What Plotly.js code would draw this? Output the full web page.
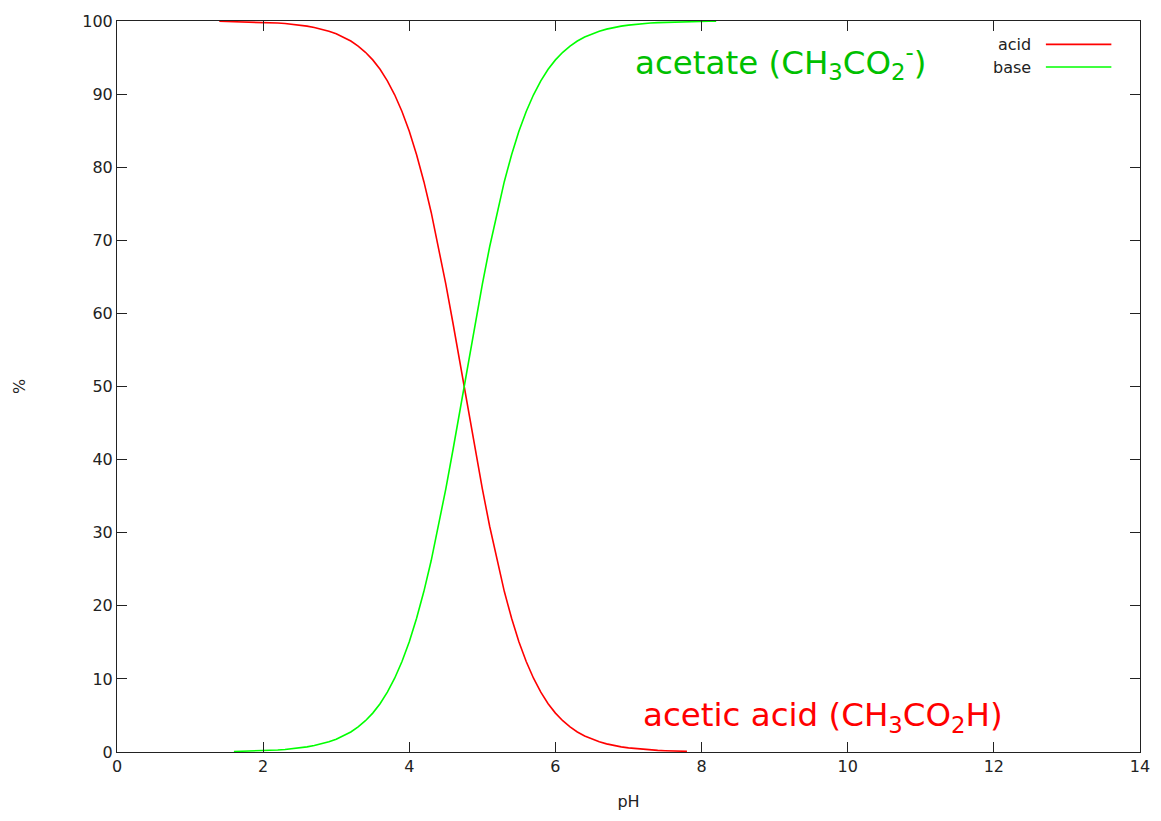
<!DOCTYPE html>
<html><head><meta charset="utf-8">
<script src="https://cdn.plot.ly/plotly-3.0.1.min.js"></script>
<style>html,body{margin:0;padding:0;background:#fff}#chart{width:1161px;height:821px}</style>
</head><body><div id="chart"></div>
<script>
// pH values and percentages
const acidPH = [1.4,1.5,1.6,1.7,1.8,1.9,2.0,2.1,2.2,2.3,2.4,2.5,2.6,2.7,2.8,2.9,3.0,3.1,3.2,3.3,3.4,3.5,3.6,3.7,3.8,3.9,4.0,4.1,4.2,4.3,4.4,4.5,4.6,4.7,4.8,4.9,5.0,5.1,5.2,5.3,5.4,5.5,5.6,5.7,5.8,5.9,6.0,6.1,6.2,6.3,6.4,6.5,6.6,6.7,6.8,6.9,7.0,7.1,7.2,7.3,7.4,7.5,7.6,7.7,7.8];
const acidPct = [99.96,99.94,99.93,99.91,99.89,99.86,99.82,99.78,99.72,99.65,99.56,99.44,99.30,99.12,98.89,98.61,98.25,97.81,97.26,96.57,95.72,94.68,93.39,91.82,89.91,87.62,84.91,81.71,78.02,73.81,69.12,64.01,58.55,52.87,47.13,41.45,35.99,30.88,26.19,21.98,18.29,15.09,12.38,10.09,8.18,6.61,5.32,4.28,3.43,2.74,2.19,1.75,1.39,1.11,0.88,0.70,0.56,0.45,0.35,0.28,0.22,0.18,0.14,0.11,0.09];
const basePH = [1.6,1.7,1.8,1.9,2.0,2.1,2.2,2.3,2.4,2.5,2.6,2.7,2.8,2.9,3.0,3.1,3.2,3.3,3.4,3.5,3.6,3.7,3.8,3.9,4.0,4.1,4.2,4.3,4.4,4.5,4.6,4.7,4.8,4.9,5.0,5.1,5.2,5.3,5.4,5.5,5.6,5.7,5.8,5.9,6.0,6.1,6.2,6.3,6.4,6.5,6.6,6.7,6.8,6.9,7.0,7.1,7.2,7.3,7.4,7.5,7.6,7.7,7.8,7.9,8.0,8.1,8.2];
const basePct = [0.07,0.09,0.11,0.14,0.18,0.22,0.28,0.35,0.44,0.56,0.70,0.88,1.11,1.39,1.75,2.19,2.74,3.43,4.28,5.32,6.61,8.18,10.09,12.38,15.09,18.29,21.98,26.19,30.88,35.99,41.45,47.13,52.87,58.55,64.01,69.12,73.81,78.02,81.71,84.91,87.62,89.91,91.82,93.39,94.68,95.72,96.57,97.26,97.81,98.25,98.61,98.89,99.12,99.30,99.44,99.56,99.65,99.72,99.78,99.82,99.86,99.89,99.91,99.93,99.94,99.96,99.96];
const seriesNames = ['acid','base'];
const xTicks = [0,2,4,6,8,10,12,14];
const yTicks = [0,10,20,30,40,50,60,70,80,90,100];

const RED = '#ff0000', GREEN = '#00ff00';
const FONT = 'DejaVu Sans, Verdana, sans-serif';
const axisCommon = {
  showgrid:false, zeroline:false, showline:true, linecolor:'#222', linewidth:1,
  mirror:'ticks', ticks:'inside', ticklen:10, tickcolor:'#222', tickwidth:1,
  tickfont:{family:FONT,size:16,color:'#222'}
};
const traces = [
  {x:acidPH, y:acidPct, name:seriesNames[0], mode:'lines', line:{color:RED,width:1.6}},
  {x:basePH, y:basePct, name:seriesNames[1], mode:'lines', line:{color:GREEN,width:1.6}}
];
const layout = {
  width:1161, height:821, paper_bgcolor:'#fff', plot_bgcolor:'#fff',
  margin:{l:117,r:21,t:21,b:69},
  showlegend:false,
  xaxis:Object.assign({}, axisCommon, {range:[0,14], tickvals:xTicks, ticktext:xTicks.map(String),
    title:{text:'pH', font:{family:FONT,size:16,color:'#222'}, standoff:20}}),
  yaxis:Object.assign({}, axisCommon, {range:[0,100], tickvals:yTicks, ticktext:yTicks.map(String),
    title:{text:'%', font:{family:FONT,size:16,color:'#222'}, standoff:52}}),
  annotations:[
    {xref:'paper',yref:'paper',x:0.895,y:0.968,xanchor:'right',yanchor:'middle',text:seriesNames[0],showarrow:false,font:{family:FONT,size:16,color:'#222'}},
    {xref:'paper',yref:'paper',x:0.895,y:0.937,xanchor:'right',yanchor:'middle',text:seriesNames[1],showarrow:false,font:{family:FONT,size:16,color:'#222'}},
    {xref:'paper',yref:'paper',x:0.504,y:0.944,xanchor:'left',yanchor:'middle',showarrow:false,
      text:'acetate (CH<sub>3</sub>CO<sub>2</sub><sup>-</sup>)',font:{family:FONT,size:32.5,color:'#00c000'}},
    {xref:'paper',yref:'paper',x:0.512,y:0.048,xanchor:'left',yanchor:'middle',showarrow:false,
      text:'acetic acid (CH<sub>3</sub>CO<sub>2</sub>H)',font:{family:FONT,size:32.5,color:'#ff0000'}}
  ],
  shapes:[
    {type:'line',xref:'paper',yref:'paper',x0:0.908,x1:0.972,y0:0.968,y1:0.968,line:{color:RED,width:1.6}},
    {type:'line',xref:'paper',yref:'paper',x0:0.908,x1:0.972,y0:0.937,y1:0.937,line:{color:GREEN,width:1.6}}
  ]
};
Plotly.newPlot('chart', traces, layout, {displayModeBar:false, staticPlot:true});
</script></body></html>
